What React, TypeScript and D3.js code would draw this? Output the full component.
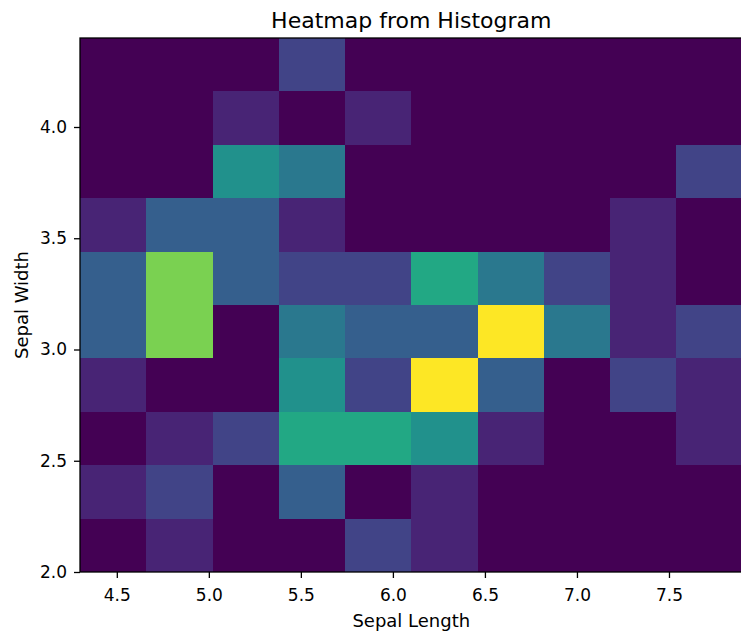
import { useEffect, useRef } from 'react';
import * as d3 from 'd3';

// bin edges (10 x 10 bins)
const lengthEdges = [4.3, 4.66, 5.02, 5.38, 5.74, 6.1, 6.46, 6.82, 7.18, 7.54, 7.9];
const widthEdges = [2.0, 2.24, 2.48, 2.72, 2.96, 3.2, 3.44, 3.68, 3.92, 4.16, 4.4];

// counts, one row per sepal width bin (bottom row first), columns = sepal length bins
const counts = [
  [0, 1, 0, 0, 2, 1, 0, 0, 0, 0],
  [1, 2, 0, 3, 0, 1, 0, 0, 0, 0],
  [0, 1, 2, 6, 6, 5, 1, 0, 0, 1],
  [1, 0, 0, 5, 2, 10, 3, 0, 2, 1],
  [3, 8, 0, 4, 3, 3, 10, 4, 1, 2],
  [3, 8, 3, 2, 2, 6, 4, 2, 1, 0],
  [1, 3, 3, 1, 0, 0, 0, 0, 1, 0],
  [0, 0, 5, 4, 0, 0, 0, 0, 0, 2],
  [0, 0, 1, 0, 1, 0, 0, 0, 0, 0],
  [0, 0, 0, 2, 0, 0, 0, 0, 0, 0],
];

const xTicks = [4.5, 5.0, 5.5, 6.0, 6.5, 7.0, 7.5];
const yTicks = [2.0, 2.5, 3.0, 3.5, 4.0];

const W = 741;
const H = 633;
const FONT = '"DejaVu Sans", sans-serif';

export default function App() {
  const svgRef = useRef<SVGSVGElement | null>(null);

  useEffect(() => {
    const svg = d3.select(svgRef.current);
    svg.selectAll('*').remove();

    const left = 80, right = 742.6, top = 38, bottom = 572;

    const x = d3.scaleLinear().domain([4.3, 7.9]).range([left, right]);
    const y = d3.scaleLinear().domain([2.0, 4.4]).range([bottom, top]);
    const maxCount = d3.max(counts.flat()) as number;
    const color = d3.scaleSequential(d3.interpolateViridis).domain([0, maxCount]);

    // ── cells ─────────────────────────────────────
    const cells = counts.flatMap((row, j) => row.map((c, i) => ({ i, j, c })));
    svg.append('g')
      .attr('shape-rendering', 'crispEdges')
      .selectAll('rect')
      .data(cells)
      .join('rect')
      .attr('x', d => Math.round(x(lengthEdges[d.i])))
      .attr('y', d => Math.round(y(widthEdges[d.j + 1])))
      .attr('width', d => Math.round(x(lengthEdges[d.i + 1])) - Math.round(x(lengthEdges[d.i])))
      .attr('height', d => Math.round(y(widthEdges[d.j])) - Math.round(y(widthEdges[d.j + 1])))
      .attr('fill', d => color(d.c));

    // ── spines ────────────────────────────────────
    svg.append('rect')
      .attr('x', left).attr('y', top)
      .attr('width', right - left).attr('height', bottom - top)
      .attr('fill', 'none').attr('stroke', '#000').attr('stroke-width', 1.3);

    // ── axes ──────────────────────────────────────
    const xAxis = svg.append('g').attr('transform', `translate(0,${bottom})`)
      .call(d3.axisBottom(x).tickValues(xTicks).tickFormat(d3.format('.1f')).tickSize(6).tickPadding(10.5));
    const yAxis = svg.append('g').attr('transform', `translate(${left},0)`)
      .call(d3.axisLeft(y).tickValues(yTicks).tickFormat(d3.format('.1f')).tickSize(6).tickPadding(7));

    [xAxis, yAxis].forEach(a => {
      a.select('.domain').remove();
      a.selectAll('line').attr('stroke', '#000').attr('stroke-width', 1.3);
      a.selectAll('text').attr('fill', '#000').attr('font-family', FONT).attr('font-size', '17px');
    });

    // ── labels ────────────────────────────────────
    svg.append('text')
      .attr('x', (left + right) / 2).attr('y', 28)
      .attr('text-anchor', 'middle')
      .attr('font-family', FONT).attr('font-size', '22px').attr('fill', '#000')
      .text('Heatmap from Histogram');

    svg.append('text')
      .attr('x', (left + right) / 2).attr('y', 627)
      .attr('text-anchor', 'middle')
      .attr('font-family', FONT).attr('font-size', '18px').attr('fill', '#000')
      .text('Sepal Length');

    svg.append('text')
      .attr('transform', `translate(28,${(top + bottom) / 2}) rotate(-90)`)
      .attr('text-anchor', 'middle')
      .attr('font-family', FONT).attr('font-size', '18px').attr('fill', '#000')
      .text('Sepal Width');
  }, []);

  return (
    <svg
      ref={svgRef}
      width={W}
      height={H}
      style={{ position: 'absolute', left: 0, top: 0, background: '#fff' }}
    />
  );
}
